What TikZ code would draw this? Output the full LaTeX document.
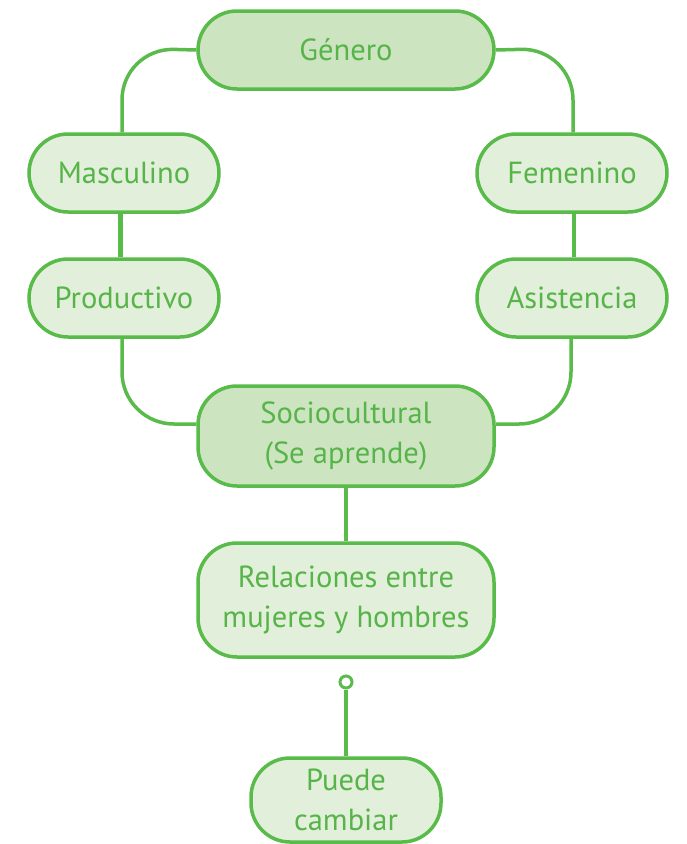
\documentclass[tikz,border=0pt]{standalone}
\usepackage{fontspec}
\setmainfont{PT Sans}
\definecolor{gline}{RGB}{88,187,74}
\definecolor{gtext}{RGB}{86,180,72}
\definecolor{gdark}{RGB}{205,228,193}
\definecolor{glight}{RGB}{226,239,218}
\begin{document}
\begin{tikzpicture}[x=1pt,y=-1pt,
  box/.style={draw=gline, line width=3.5pt, rounded corners=39pt, text=gtext,
    font=\fontsize{30.5}{40}\selectfont, align=center, inner sep=0pt},
  wide/.style={box, minimum width=296pt},
  narrow/.style={box, minimum width=190pt},
  dark/.style={fill=gdark},
  light/.style={fill=glight},
  conn/.style={draw=gline, line width=3.5pt},
  curvedconn/.style={conn, rounded corners=52pt},
  thickconn/.style={draw=gline, line width=5pt}]
\useasboundingbox (0,0) rectangle (687,844);
\node[wide, dark, minimum height=78pt] (gen) at (346,50) {Género};
\node[narrow, light, minimum height=78pt] (mas) at (124,173) {Masculino};
\node[narrow, light, minimum height=78pt] (fem) at (572,173) {Femenino};
\node[narrow, light, minimum height=78pt] (pro) at (124,298) {Productivo};
\node[narrow, light, minimum height=78pt] (asi) at (572,298) {Asistencia};
\node[wide, dark, minimum height=100pt] (soc) at (346,436) {Sociocultural\\(Se aprende)};
\node[wide, light, minimum height=114pt] (rel) at (346,600) {Relaciones entre\\mujeres y hombres};
\node[narrow, light, minimum height=84pt] (pue) at (346,800) {Puede\\cambiar};
\node[circle, draw=gline, fill=white, line width=3pt, minimum size=12pt, inner sep=0pt] (dot) at (346,682) {};
\draw[curvedconn] (gen.west) -- (122,48) -- (mas.north -| 122,0);
\draw[curvedconn] (gen.east) -- (573,48) -- (fem.north -| 573,0);
\draw[thickconn] (mas.south -| 120,0) -- (pro.north -| 120,0);
\draw[conn] (fem.south -| 574,0) -- (asi.north -| 574,0);
\draw[curvedconn] (pro.south -| 122,0) -- (122,424) -- (soc.west |- 0,424);
\draw[curvedconn] (asi.south -| 571,0) -- (571,424) -- (soc.east |- 0,424);
\draw[conn] (soc.south) -- (rel.north);
\draw[conn] (dot.south) -- (pue.north);
\end{tikzpicture}
\end{document}
